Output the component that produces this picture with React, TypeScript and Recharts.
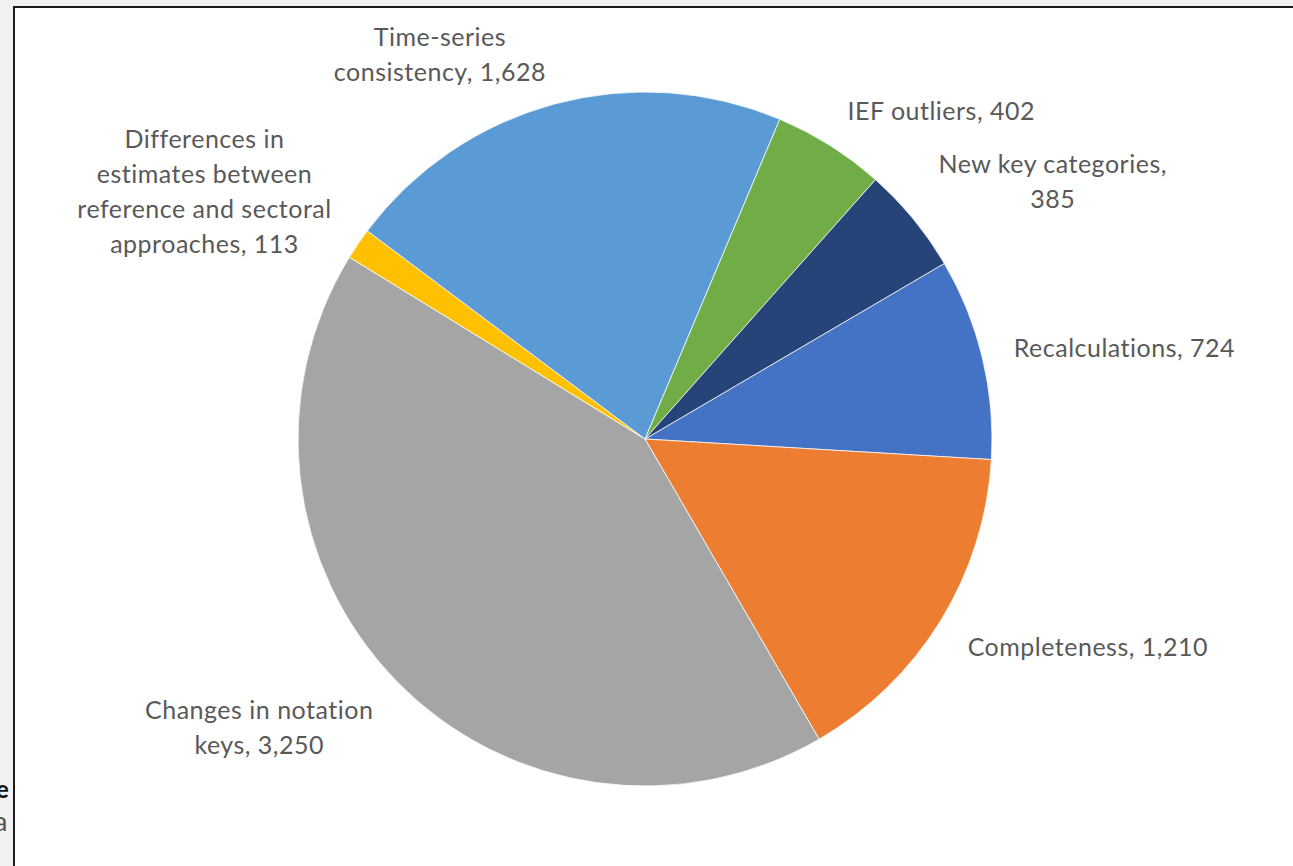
import { PieChart, Pie, Cell } from 'recharts';

// values (clockwise from Recalculations)
const categories = [
  'Recalculations',
  'Completeness',
  'Changes in notation keys',
  'Differences in estimates between reference and sectoral approaches',
  'Time-series consistency',
  'IEF outliers',
  'New key categories',
];
const values = [724, 1210, 3250, 113, 1628, 402, 385];
const colors = ['#4472C4', '#ED7D31', '#A5A5A5', '#FFC000', '#5B9BD5', '#70AD47', '#264478'];

// how each label wraps in the reference (value is appended to last line)
const labelLines = [
  ['Recalculations,'],
  ['Completeness,'],
  ['Changes in notation', 'keys,'],
  ['Differences in', 'estimates between', 'reference and sectoral', 'approaches,'],
  ['Time-series', 'consistency,'],
  ['IEF outliers,'],
  ['New key categories,', ''],
];

const data = categories.map((name, i) => ({ name, value: values[i] }));

const RADIAN = Math.PI / 180;
const FONT_SIZE = 25;
const FONT = `${FONT_SIZE}px Lato`;
const LINE_H = 35;
const GAP = 32;

let ctx: CanvasRenderingContext2D | null = null;
function measure(text: string) {
  if (!ctx) ctx = document.createElement('canvas').getContext('2d');
  if (!ctx) return text.length * FONT_SIZE * 0.5;
  ctx.font = FONT;
  return ctx.measureText(text).width + text.length * 0.5;
}

function renderLabel(props: any) {
  const { cx, cy, midAngle, outerRadius, index, value } = props;
  const cos = Math.cos(-midAngle * RADIAN);
  const sin = -Math.sin(-midAngle * RADIAN); // positive = up
  const ax = cx + (outerRadius + GAP) * cos;
  const ay = cy - (outerRadius + GAP) * sin;

  const base = labelLines[index];
  const valText = value.toLocaleString('en-US');
  const lines = base.map((l, i) =>
    i === base.length - 1 ? (l === '' ? valText : `${l} ${valText}`) : l
  );
  const w = Math.max(...lines.map(measure));
  const h = lines.length * LINE_H;

  // block sits on the outer side of the anchor point, like Excel's outside-end labels
  const left = cos >= 0 ? ax : ax - w;
  const centerX = left + w / 2;
  let top = ay - sin * h / 2 + Math.max(sin, 0) * LINE_H / 4 - h / 2;
  if (top < 12) top = 12;

  return (
    <text
      key={`lbl-${index}`}
      fill="#595959"
      fontFamily="Lato"
      fontSize={FONT_SIZE}
      letterSpacing={0.5}
      textAnchor="middle"
    >
      {lines.map((line, i) => (
        <tspan key={i} x={centerX} y={top + LINE_H * (i + 0.5)} dy="0.35em">
          {line}
        </tspan>
      ))}
    </text>
  );
}

export default function App() {
  return (
    <div
      style={{
        position: 'absolute',
        left: 0,
        top: 0,
        width: 1293,
        height: 866,
        overflow: 'hidden',
        background: '#f1f1f1',
        fontFamily: 'Lato, sans-serif',
      }}
    >
      <span style={{ position: 'absolute', left: -4, top: 774, fontSize: 24, fontWeight: 700, color: '#111' }}>
        e
      </span>
      <span style={{ position: 'absolute', left: -6, top: 804, fontSize: 27, color: '#555' }}>a</span>
      <div
        style={{
          position: 'absolute',
          left: 13,
          top: 6,
          width: 1300,
          height: 900,
          border: '2px solid #1a1a1a',
          background: '#ffffff',
        }}
      >
        <PieChart width={1290} height={880} margin={{ top: 0, right: 0, bottom: 0, left: 0 }}>
          <Pie
            data={data}
            dataKey="value"
            nameKey="name"
            cx={630}
            cy={431}
            outerRadius={347}
            startAngle={30.4}
            endAngle={-329.6}
            stroke="#ffffff"
            strokeWidth={0.75}
            label={renderLabel}
            labelLine={false}
            isAnimationActive={false}
          >
            {data.map((d, i) => (
              <Cell key={d.name} fill={colors[i]} />
            ))}
          </Pie>
        </PieChart>
      </div>
    </div>
  );
}
